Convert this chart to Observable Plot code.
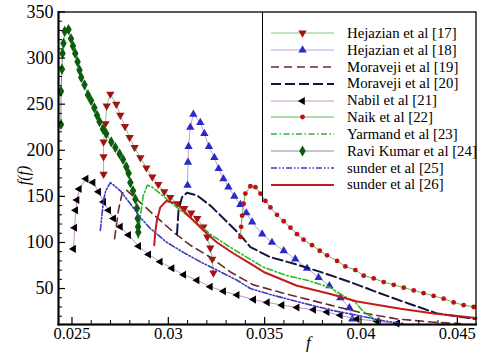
<!DOCTYPE html>
<html><head><meta charset="utf-8">
<script src="https://cdn.jsdelivr.net/npm/d3@7"></script>
<script src="https://cdn.jsdelivr.net/npm/@observablehq/plot@0.6"></script>
<style>
body{margin:0;background:#fff;}
#wrap{position:relative;width:479px;height:353px;font-family:"Liberation Serif","DejaVu Serif","Times New Roman",Times,serif;}
#legend{position:absolute;left:262px;top:12px;width:214px;height:190px;border-left:1px solid #000;}
.row{position:absolute;left:0;height:17px;display:flex;align-items:center;white-space:nowrap;}
.row svg{margin-left:8px;}
.row span{font-family:"Liberation Serif","DejaVu Serif","Times New Roman",Times,serif;font-size:14.8px;color:#000;margin-left:13px;}
</style></head>
<body><div id="wrap"><div id="legend"></div></div>
<script>
// ---- data (friction factor f, f(f)) ----
const hej17 = [[0.02664,174],[0.02664,193],[0.02664,209],[0.02674,229],[0.02680,248],[0.02699,261],[0.02730,250],[0.02751,238],[0.02775,226],[0.02799,214],[0.02825,203],[0.02855,192],[0.02886,181],[0.02917,171],[0.02948,163],[0.02979,155],[0.03010,149],[0.03047,142],[0.03083,137],[0.03119,132],[0.03150,126],[0.03182,117],[0.03202,106],[0.03218,94],[0.03228,82],[0.03234,67]];
const hej18 = [[0.03100,162],[0.03102,187],[0.03105,204],[0.03114,225],[0.03130,239],[0.03166,230],[0.03187,218],[0.03211,204],[0.03239,192],[0.03261,180],[0.03286,169],[0.03312,160],[0.03343,150],[0.03374,141],[0.03405,132],[0.03435,122],[0.03487,109],[0.03538,100],[0.03599,91],[0.03659,82],[0.03720,72],[0.03780,62],[0.03836,53],[0.03893,40],[0.03940,29],[0.03955,17]];
const mor19 = [[0.02721,104],[0.02742,136],[0.02760,153],[0.02782,157],[0.02803,153],[0.02872,140],[0.02941,127],[0.03028,111],[0.03114,97],[0.03218,84],[0.03322,68],[0.03441,54],[0.03597,45],[0.03841,32],[0.03997,24],[0.04188,17],[0.04377,13.5],[0.04516,12]];
const mor20 = [[0.03045,109],[0.03053,135],[0.03071,149],[0.03097,154],[0.03149,151],[0.03218,140],[0.03287,126],[0.03374,108],[0.03426,95],[0.03530,84],[0.03668,76],[0.03805,67],[0.03945,57],[0.04084,46],[0.04257,33],[0.04395,23],[0.04594,17]];
const nabil21 = [[0.02508,93],[0.02514,116],[0.02519,135],[0.02526,146],[0.02538,158],[0.02573,169],[0.02609,165],[0.02638,155],[0.02664,144],[0.02690,135],[0.02716,126],[0.02751,117],[0.02794,108],[0.02846,96],[0.02898,87],[0.02958,79],[0.03019,72],[0.03080,65],[0.03149,59],[0.03218,52],[0.03287,47],[0.03357,43],[0.03443,38],[0.03514,35],[0.03590,32],[0.03668,29.5],[0.03754,27],[0.03824,24.5],[0.03893,21],[0.03980,17],[0.04084,14.5],[0.04187,12]];
const naik22 = [[0.03374,106],[0.03378,117],[0.03383,129],[0.03391,142],[0.03400,153],[0.03426,161],[0.03452,160],[0.03478,153],[0.03504,145],[0.03530,138],[0.03564,130],[0.03599,123],[0.03634,116],[0.03668,109],[0.03702,103],[0.03746,97],[0.03786,91],[0.03824,86],[0.03876,80],[0.03919,74],[0.03971,70],[0.04014,64],[0.04066,61],[0.04118,57],[0.04170,54],[0.04222,51],[0.04274,48],[0.04325,45],[0.04377,42],[0.04429,39],[0.04481,35],[0.04533,32],[0.04585,30]];
const yarmand23 = [[0.02844,105],[0.02855,129],[0.02870,151],[0.02891,162],[0.02917,160],[0.02958,153],[0.03045,138],[0.03131,124],[0.03218,109],[0.03305,97],[0.03391,86],[0.03495,73],[0.03616,64],[0.03720,59],[0.03841,51],[0.03910,42],[0.03971,35],[0.04012,25],[0.04048,20],[0.04083,14]];
const ravi24 = [[0.02443,228],[0.02443,264],[0.02448,288],[0.02451,305],[0.02456,316],[0.02462,329],[0.02482,331],[0.02495,321],[0.02505,313],[0.02517,305],[0.02529,296],[0.02539,287],[0.02548,279],[0.02565,271],[0.02583,260],[0.02599,254],[0.02616,246],[0.02630,238],[0.02643,231],[0.02661,223],[0.02678,218],[0.02704,209],[0.02725,203],[0.02747,196],[0.02765,190],[0.02782,182],[0.02794,175],[0.02803,165],[0.02817,156],[0.02829,147],[0.02837,137],[0.02841,126],[0.02843,117],[0.02844,111]];
const sunder25 = [[0.02647,113],[0.02664,146],[0.02675,156],[0.02699,165],[0.02751,156],[0.02803,142],[0.02855,127],[0.02907,115],[0.02993,100],[0.03080,89],[0.03166,79],[0.03253,70],[0.03357,59],[0.03426,50],[0.03530,43.5],[0.03685,35],[0.03857,26],[0.03980,21],[0.04116,15],[0.04220,12]];
const sunder26 = [[0.02927,97],[0.02932,111],[0.02941,124],[0.02958,138],[0.02990,145],[0.03045,142],[0.03114,127],[0.03183,113],[0.03253,100],[0.03339,88],[0.03426,77],[0.03495,68],[0.03668,53],[0.03841,44],[0.03980,36],[0.04205,28],[0.04378,23],[0.04599,18]];

const seriesLabels = ["Hejazian et al [17]","Hejazian et al [18]","Moraveji et al [19]","Moraveji et al [20]","Nabil et al [21]","Naik et al [22]","Yarmand et al [23]","Ravi Kumar et al [24]","sunder et al [25]","sunder et al [26]"];
const yMajor = [50,100,150,200,250,300,350];
const yMinor = [20,30,40,60,70,80,90,110,120,130,140,160,170,180,190,210,220,230,240,260,270,280,290,310,320,330,340];
const xMajor = [0.025,0.03,0.035,0.04,0.045];
const xTickLabels = ["0.025","0.03","0.035","0.04","0.045"];
const xMinor = [0.026,0.027,0.028,0.029,0.031,0.032,0.033,0.034,0.036,0.037,0.038,0.039,0.041,0.042,0.043,0.044];

// ---- styles ----
const series = [
  {data:hej17, stroke:"#86c886", sw:1, dash:null, symbol:"triangle", rotate:180, fill:"#a01414", r:3.1},
  {data:hej18, stroke:"#c0a0e0", sw:1, dash:null, symbol:"triangle", rotate:0, fill:"#2a2ac8", r:3.1},
  {data:mor19, stroke:"#6b2a2a", sw:1.6, dash:"8,5"},
  {data:mor20, stroke:"#14143c", sw:2, dash:"10,4"},
  {data:nabil21, stroke:"#c890c8", sw:1, dash:null, symbol:"triangle", rotate:-90, fill:"#000000", r:3.0},
  {data:naik22, stroke:"#66b466", sw:1, dash:null, symbol:"circle", rotate:0, fill:"#c01010", r:2.4},
  {data:yarmand23, stroke:"#2cb82c", sw:1.6, dash:"6,2.5,1.5,2.5"},
  {data:ravi24, stroke:"#8a8aa8", sw:1, dash:null, symbol:"diamond", rotate:0, fill:"#0b5d0b", r:3.4},
  {data:sunder25, stroke:"#3a3ac8", sw:1.6, dash:"6,2,1.5,2,1.5,2"},
  {data:sunder26, stroke:"#c41a1a", sw:2, dash:null}
];

const marks = [];
for (const s of series) {
  marks.push(Plot.line(s.data, {x: d => d[0], y: d => d[1], stroke: s.stroke, strokeWidth: s.sw, strokeDasharray: s.dash}));
  if (s.symbol) marks.push(Plot.dot(s.data, {x: d => d[0], y: d => d[1], symbol: s.symbol, rotate: s.rotate, fill: s.fill, stroke: "none", r: s.r}));
}

const serif = "'Liberation Serif','DejaVu Serif','Times New Roman',Times,serif";
const chart = Plot.plot({
  width: 479, height: 353,
  marginLeft: 58, marginRight: 3.5, marginTop: 11.5, marginBottom: 29,
  style: {fontFamily: serif, fontSize: "16px", background: "#fff", color: "#000"},
  x: {domain: [0.0243, 0.04597]},
  y: {domain: [11, 350]},
  marks: [
    ...marks,
    Plot.axisY({ticks: yMajor, tickSize: -7, tickPadding: 12, fontSize: 18, fontFamily: serif, label: null, strokeWidth: 1.2}),
    Plot.axisY({ticks: yMinor, tickSize: -4, tickFormat: () => "", label: null}),
    Plot.axisX({ticks: xMajor, tickSize: -7, tickPadding: 10, fontSize: 16.5, fontFamily: serif, label: null, strokeWidth: 1.2, tickFormat: d => xTickLabels[xMajor.indexOf(d)]}),
    Plot.axisX({ticks: xMinor, tickSize: -4, tickFormat: () => "", label: null}),
    Plot.frame({stroke: "#000", strokeWidth: 1.3}),
    Plot.frame({anchor: "left", stroke: "#000", strokeWidth: 2}),
    Plot.frame({anchor: "bottom", stroke: "#000", strokeWidth: 2}),
    Plot.text(["f"], {text: d => d, frameAnchor: "bottom", dx: 41, dy: 23, fontStyle: "italic", fontSize: 17, fontFamily: serif}),
    Plot.text(["f(f)"], {text: d => d, frameAnchor: "left", rotate: -90, dx: -35, dy: 17, fontStyle: "italic", fontSize: 16, fontFamily: serif})
  ]
});
document.getElementById("wrap").prepend(chart);

// ---- legend (inside plot, top right) ----
const legend = d3.select("#legend");
const rowCenters = [33,50,67,83.5,100.5,117,134,151,168,184.5];
seriesLabels.forEach((lab, i) => {
  const s = series[i];
  const row = legend.append("div").attr("class","row").style("top", (rowCenters[i] - 12 - 8.5) + "px");
  const svg = row.append("svg").attr("width", 63).attr("height", 12);
  svg.append("line").attr("x1",0).attr("x2",63).attr("y1",6).attr("y2",6)
     .attr("stroke", s.stroke).attr("stroke-width", s.sw).attr("stroke-dasharray", s.dash);
  if (s.symbol) {
    const sym = {triangle: d3.symbolTriangle, circle: d3.symbolCircle, diamond: d3.symbolDiamond}[s.symbol];
    svg.append("path").attr("d", d3.symbol(sym, Math.PI * s.r * s.r)())
       .attr("transform", `translate(31.5,6) rotate(${s.rotate})`).attr("fill", s.fill);
  }
  row.append("span").text(lab);
});
</script>
</body></html>
